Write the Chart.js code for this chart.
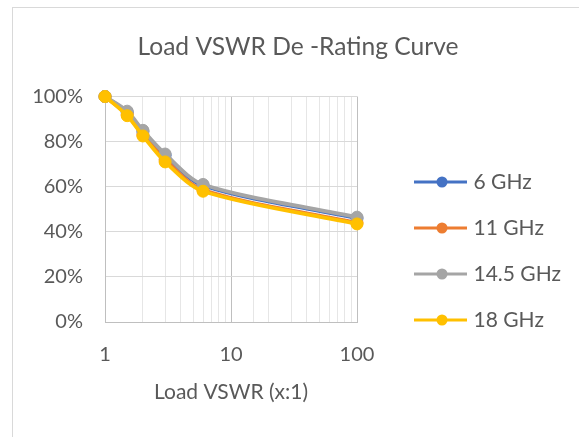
<!DOCTYPE html>
<html>
<head>
<meta charset="utf-8">
<script src="https://cdn.jsdelivr.net/npm/chart.js@4/dist/chart.umd.min.js"></script>
<style>
  html, body { margin: 0; padding: 0; background: #ffffff; }
  #wrap { position: relative; width: 579px; height: 437px; overflow: hidden; }
  #frame { position: absolute; left: 12px; top: 7px; width: 640px; height: 520px; border: 1px solid #d9d9d9; box-sizing: border-box; }
  #c { position: absolute; left: 0; top: 0; }
</style>
</head>
<body>
<div id="wrap">
  <div id="frame"></div>
  <canvas id="c" width="579" height="437"></canvas>
</div>
<script>
// ---- data ----
const titleText = 'Load VSWR De -Rating Curve';
const xAxisTitle = 'Load VSWR (x:1)';
const vswr = [1, 1.5, 2, 3, 6, 100];
const seriesNames = ['6 GHz', '11 GHz', '14.5 GHz', '18 GHz'];
const ghz6 = [100, 93, 84.5, 74, 60.5, 46];
const ghz11 = [100, 92, 83, 72, 58.5, 44];
const ghz14_5 = [100, 93.5, 85, 74.5, 61, 46.5];
const ghz18 = [100, 91.5, 82.5, 71, 58, 43.5];
const seriesColors = ['#4472C4', '#ED7D31', '#A5A5A5', '#FFC000'];
const xTickLabels = [1, 10, 100];
const yTickValues = [0, 20, 40, 60, 80, 100];

const FONT = 'Lato';
const textColor = '#595959';

function makeLegendImage(color) {
  const cv = document.createElement('canvas');
  cv.width = 89; cv.height = 14;
  const g = cv.getContext('2d');
  g.strokeStyle = color;
  g.lineWidth = 3;
  g.beginPath();
  g.moveTo(36, 7); g.lineTo(89, 7);
  g.stroke();
  g.fillStyle = color;
  g.beginPath();
  g.arc(64, 7, 5.5, 0, Math.PI * 2);
  g.fill();
  return cv;
}

function start() {
  const series = [ghz6, ghz11, ghz14_5, ghz18];
  const legendImgs = seriesColors.map(makeLegendImage);

  const legPad = 25, boxW = 81, legFont = 21;
  const mctx = document.createElement('canvas').getContext('2d');
  mctx.font = legFont + 'px ' + FONT;
  const maxText = Math.max(...seriesNames.map(s => mctx.measureText(s).width));
  const legendWidth = legPad + boxW + legFont / 2 + maxText + 10;
  const chartRight = 357;
  const padRight = 579 - chartRight - legendWidth;
  const titleCenter = 298;

  const datasets = series.map((vals, i) => ({
    label: seriesNames[i],
    data: vswr.map((x, j) => ({ x: x, y: vals[j] })),
    borderColor: seriesColors[i],
    backgroundColor: seriesColors[i],
    borderWidth: 3.75,
    pointRadius: 6,
    pointBorderWidth: 1,
    pointBorderColor: seriesColors[i],
    pointBackgroundColor: seriesColors[i],
    tension: 0.3,
    clip: false,
    order: 3 - i
  }));

  const titleShift = {
    id: 'titleShift',
    afterLayout(chart) {
      const t = chart.titleBlock;
      if (t) { t.left = 2 * titleCenter - t.right; }
    }
  };

  new Chart(document.getElementById('c'), {
    type: 'line',
    data: { datasets },
    plugins: [titleShift],
    options: {
      responsive: false,
      devicePixelRatio: 1,
      animation: false,
      layout: { padding: { left: 12, top: 0, right: padRight, bottom: 31 } },
      plugins: {
        title: {
          display: true,
          text: titleText,
          color: textColor,
          font: { family: FONT, size: 24.6, weight: 'normal' },
          padding: { top: 32, bottom: 35 }
        },
        legend: {
          display: true,
          position: 'right',
          maxWidth: 300,
          title: { display: true, text: ' ', font: { family: FONT, size: 20 }, padding: 36 },
          labels: {
            color: textColor,
            font: { family: FONT, size: legFont },
            padding: legPad,
            usePointStyle: true,
            pointStyleWidth: boxW,
            sort: (a, b) => a.datasetIndex - b.datasetIndex,
            generateLabels(chart) {
              const items = Chart.defaults.plugins.legend.labels.generateLabels(chart);
              items.forEach(it => { it.pointStyle = legendImgs[it.datasetIndex]; });
              return items;
            }
          }
        },
        tooltip: { enabled: false }
      },
      scales: {
        x: {
          type: 'logarithmic',
          min: 1,
          max: 100,
          afterFit(scale) { scale.height = 84; },
          grid: {
            drawTicks: false,
            color: ctx => (xTickLabels.includes(ctx.tick && ctx.tick.value) ? '#bfbfbf' : '#e6e6e6'),
            lineWidth: 1
          },
          border: { display: true, color: '#bfbfbf', width: 1 },
          ticks: {
            autoSkip: false,
            maxRotation: 0,
            padding: 21,
            color: textColor,
            font: { family: FONT, size: 20 },
            callback: v => (xTickLabels.includes(v) ? String(v) : '')
          },
          title: {
            display: true,
            text: xAxisTitle,
            color: textColor,
            font: { family: FONT, size: 21 },
            padding: { top: 0, bottom: 1 }
          }
        },
        y: {
          min: 0,
          max: 100,
          afterFit(scale) { scale.width = 93; },
          afterBuildTicks(scale) { scale.ticks = yTickValues.map(v => ({ value: v })); },
          grid: {
            drawTicks: false,
            color: ctx => (ctx.tick && ctx.tick.value === 0 ? '#bfbfbf' : '#d9d9d9'),
            lineWidth: 1
          },
          border: { display: true, color: '#bfbfbf', width: 1 },
          ticks: {
            padding: 22,
            color: textColor,
            font: { family: FONT, size: 20 },
            callback: v => v + '%'
          }
        }
      }
    }
  });
}

if (document.fonts && document.fonts.load) {
  document.fonts.load('20px ' + FONT).then(start, start);
} else {
  start();
}
</script>
</body>
</html>
